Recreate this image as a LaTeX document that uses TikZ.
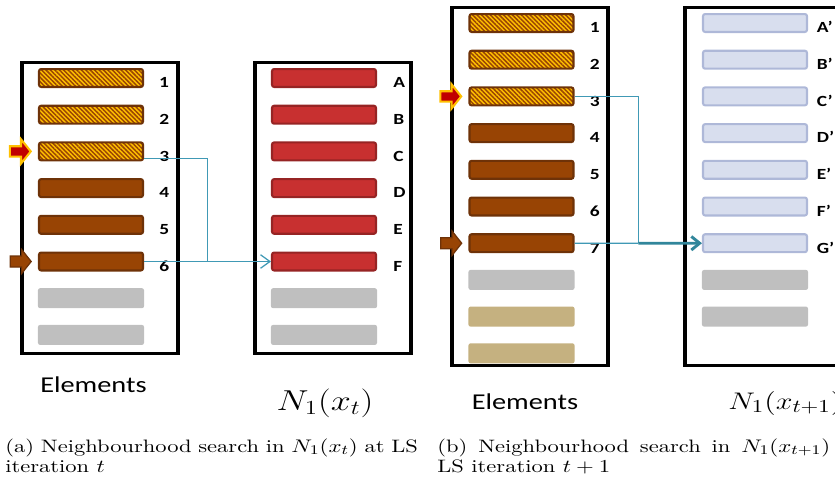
\documentclass[tikz,border=0pt]{standalone}
\usepackage{fontspec}
\newfontfamily\calibri{Carlito}
\usetikzlibrary{shapes,arrows.meta,positioning,calc,patterns.meta}
\usepackage{xcolor}
\hyphenpenalty=10000
\definecolor{hatchbg}{RGB}{255,192,0}
\definecolor{elembrown}{RGB}{152,68,4}
\definecolor{elemedge}{RGB}{110,50,8}
\definecolor{nbred}{RGB}{200,48,48}
\definecolor{nbrededge}{RGB}{150,36,36}
\definecolor{nbblue}{RGB}{216,222,238}
\definecolor{nbblueedge}{RGB}{174,184,216}
\definecolor{emptygray}{RGB}{191,191,191}
\definecolor{emptytan}{RGB}{197,177,128}
\definecolor{linkteal}{RGB}{64,153,181}
\definecolor{linkdark}{RGB}{49,134,155}
\definecolor{markred}{RGB}{192,0,0}

\begin{document}
\begin{tikzpicture}[x=0.48pt, y=-0.6pt, yscale=0.8, transform shape,
    bar/.style={rectangle, rounded corners=1pt, inner sep=0pt, minimum width=49.9pt, minimum height=10.75pt, line width=1pt},
    graybar/.style={bar, fill=emptygray, minimum width=50.9pt, minimum height=12pt},
    tanbar/.style={bar, fill=emptytan, minimum width=50.9pt, minimum height=12pt},
    elembar/.style={bar, draw=elemedge, fill=elembrown},
    donebar/.style={bar, draw=elemedge, preaction={fill=hatchbg}, pattern={Lines[angle=-45,distance=1.5pt,line width=0.7pt]}, pattern color=elembrown},
    nbbar/.style={bar, draw=nbrededge, fill=nbred},
    nextbar/.style={bar, draw=nbblueedge, fill=nbblue},
    idx/.style={font=\calibri\bfseries\fontsize{9.3}{11}\selectfont, inner sep=0pt, anchor=base west},
    panel/.style={rectangle, draw, line width=1.5pt, inner sep=0pt, minimum width=74.9pt},
    curmark/.style={single arrow, draw=hatchbg, fill=markred, line width=1pt, inner sep=2.6pt, single arrow head extend=4.2pt, single arrow tip angle=115, minimum height=10pt},
    lastmark/.style={single arrow, draw=elemedge, fill=elembrown, line width=0.6pt, inner sep=3pt, single arrow head extend=4pt, single arrow tip angle=115, minimum height=10pt},
    link/.style={draw=linkteal, line width=0.6pt},
    linkthick/.style={draw=linkdark, line width=1.4pt, -{Straight Barb[length=4pt,width=6.5pt]}},
    elemtext/.style={font=\calibri\fontsize{13.6}{15}\selectfont, inner sep=0pt},
    mathtext/.style={font=\fontsize{17}{19}\selectfont, inner sep=0pt},
    caption/.style={text width=198pt, align=justify, inner sep=0pt, font=\fontsize{10.8}{12.5}\selectfont}]

    \useasboundingbox (0,0) rectangle (835,488);

    % the four frames
    \node[panel, minimum height=174.5pt] (elema) at (100,208) {};
    \node[panel, minimum height=174.5pt] (nbra) at (333,208) {};
    \node[panel, minimum height=215pt] (elemb) at (530,186.5) {};
    \node[panel, minimum height=215pt] (nbrb) at (763,186.5) {};

    % (a) elements and neighbourhood N_1(x_t)
    \foreach \i/\s in {1/donebar,2/donebar,3/donebar,4/elembar,5/elembar,6/elembar,7/graybar,8/graybar}
        \node[\s] (e\i) at (91,{78+36.7*(\i-1)}) {};
    \foreach \i in {1,...,6}
        \node[idx] (le\i) at ([xshift=7.2pt]e\i.south east) {\i};
    \foreach \i/\s in {1/nbbar,2/nbbar,3/nbbar,4/nbbar,5/nbbar,6/nbbar,7/graybar,8/graybar}
        \node[\s] (n\i) at (324,{78+36.7*(\i-1)}) {};
    \foreach \i/\t in {1/A,2/B,3/C,4/D,5/E,6/F}
        \node[idx] (ln\i) at ([xshift=7.7pt]n\i.south east) {\t};

    % (b) elements and neighbourhood N_1(x_{t+1})
    \foreach \i/\s in {1/donebar,2/donebar,3/donebar,4/elembar,5/elembar,6/elembar,7/elembar,8/graybar,9/tanbar,10/tanbar}
        \node[\s] (f\i) at (521.5,{23+36.7*(\i-1)}) {};
    \foreach \i in {1,...,7}
        \node[idx] (lf\i) at ([xshift=7.2pt]f\i.south east) {\i};
    \foreach \i/\s in {1/nextbar,2/nextbar,3/nextbar,4/nextbar,5/nextbar,6/nextbar,7/nextbar,8/graybar,9/graybar}
        \node[\s] (g\i) at (755,{23+36.7*(\i-1)}) {};
    \foreach \i/\t in {1/A,2/B,3/C,4/D,5/E,6/F,7/G}
        \node[idx] (lg\i) at ([xshift=4pt]g\i.south east) {\t’};

    % pointers
    \node[curmark, anchor=tip] (cura) at ([xshift=-2.9pt]e3.west) {};
    \node[lastmark, anchor=tip] (lasta) at ([xshift=-2.9pt]e6.west) {};
    \node[curmark, anchor=tip] (curb) at ([xshift=-2.9pt]f3.west) {};
    \node[lastmark, anchor=tip] (lastb) at ([xshift=-2.9pt]f7.west) {};

    % connectors
    \coordinate (ja) at ($(e6.east)!0.5!(n6.west)$);
    \draw[link] ($(e3.east)!0.75!(e3.south east)$) -| (ja);
    \draw[link, -{Straight Barb[length=4.5pt,width=6.5pt]}] (e6.east) -- (n6.west);
    \coordinate (jb) at ($(f7.east)!0.5!(g7.west)$);
    \draw[link] (f3.east) -| (jb);
    \draw[link] (f7.east) -- (jb);
    \draw[linkthick] (jb) -- (g7.west);

    % titles
    \node[elemtext] (txa) at (93.5,385) {Elements};
    \node[mathtext] (mxa) at (325,403) {$N_1(x_t)$};
    \node[elemtext] (txb) at (525,402) {Elements};
    \node[mathtext, font=\fontsize{15.5}{17}\selectfont, anchor=west] (mxb) at (728,403) {$N_1(x_{t+1})$};

    % sub-captions
    \node[caption, anchor=north west] (capa) at (5,438) {(a) Neighbourhood search in $N_1(x_t)$ at LS iteration $t$};
    \node[caption, anchor=north west] (capb) at (437,438) {\makebox[188.6pt][s]{(b) Neighbourhood search in $N_1(x_{t+1})$}\\LS iteration $t+1$};
\end{tikzpicture}
\end{document}
